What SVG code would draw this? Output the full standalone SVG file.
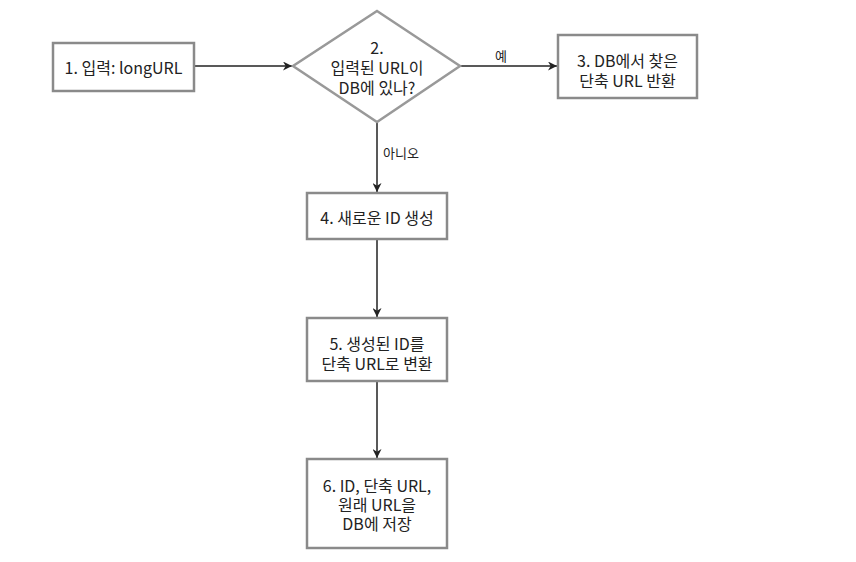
<svg xmlns="http://www.w3.org/2000/svg" width="856" height="562" viewBox="0 0 856 562">
<style>
.box{fill:#fff;stroke:#8a8a8a;stroke-width:2.5}
.dia{fill:#fff;stroke:#999;stroke-width:2.5}
.t{font-family:"Noto Sans CJK KR","Noto Sans",sans-serif;font-size:16px;fill:#222;text-anchor:middle;dominant-baseline:central}
.lbl{font-family:"Noto Sans CJK KR","Noto Sans",sans-serif;font-size:13px;fill:#222;dominant-baseline:central}
.c{stroke:#222;stroke-width:1.5;fill:none;marker-end:url(#ah)}
</style>
<defs>
<marker id="ah" viewBox="0 0 10 10" refX="10" refY="5" markerWidth="9" markerHeight="9" markerUnits="userSpaceOnUse" orient="auto">
<path d="M0,0 L10,5 L0,10 L3,5 z" fill="#222"/>
</marker>
</defs>
<rect width="856" height="562" fill="#fff"/>
<g id="connectors">
<line class="c" x1="195" y1="66" x2="292" y2="66"/>
<line class="c" x1="460" y1="66" x2="557" y2="66"/>
<line class="c" x1="377" y1="122" x2="377" y2="192"/>
<line class="c" x1="377" y1="240" x2="377" y2="317"/>
<line class="c" x1="377" y1="382" x2="377" y2="458"/>
<text class="lbl" x="495" y="55">예</text>
<text class="lbl" x="383" y="152">아니오</text>
</g>
<g id="n1">
<rect class="box" x="53" y="43" width="141" height="48"/>
<text class="t" x="123.5" y="67">1. 입력: longURL</text>
</g>
<g id="n2">
<polygon class="dia" points="377,11 460,66 377,122 293,66"/>
<text class="t" x="377" y="47">2.</text>
<text class="t" x="377" y="67">입력된 URL이</text>
<text class="t" x="377" y="87">DB에 있나?</text>
</g>
<g id="n3">
<rect class="box" x="558" y="35" width="139" height="63"/>
<text class="t" x="627.5" y="60">3. DB에서 찾은</text>
<text class="t" x="627.5" y="80">단축 URL 반환</text>
</g>
<g id="n4">
<rect class="box" x="307" y="193" width="140" height="46"/>
<text class="t" x="377" y="217">4. 새로운 ID 생성</text>
</g>
<g id="n5">
<rect class="box" x="307" y="318" width="140" height="63"/>
<text class="t" x="377" y="343">5. 생성된 ID를</text>
<text class="t" x="377" y="363">단축 URL로 변환</text>
</g>
<g id="n6">
<rect class="box" x="307" y="459" width="140" height="89"/>
<text class="t" x="377" y="485">6. ID, 단축 URL,</text>
<text class="t" x="377" y="504">원래 URL을</text>
<text class="t" x="377" y="523">DB에 저장</text>
</g>
</svg>
